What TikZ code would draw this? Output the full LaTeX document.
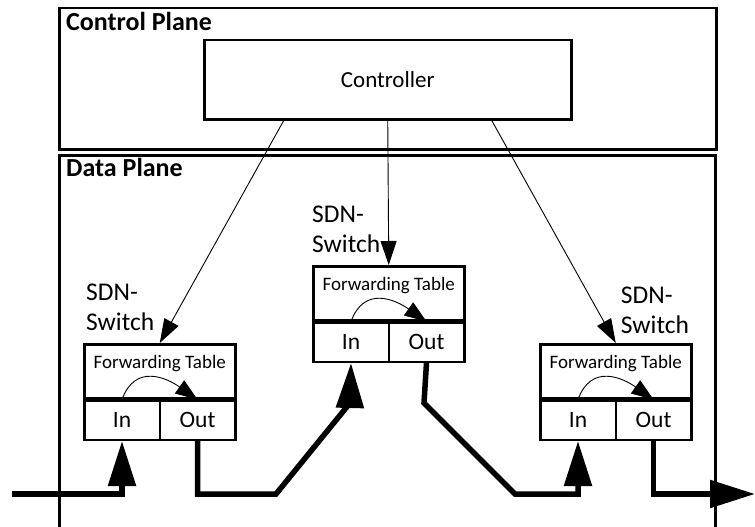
\documentclass[tikz,border=0pt]{standalone}
\usepackage{fontspec}
\setmainfont{Carlito}
\usetikzlibrary{arrows.meta,positioning}

\begin{document}
\begin{tikzpicture}[
  x=1pt, y=-1pt,
  plane/.style = {draw, line width=2.5pt, anchor=north west, inner sep=0pt},
  title/.style = {anchor=base west, inner sep=0pt, font=\fontsize{26}{30}\selectfont\bfseries},
  ctrlbox/.style = {draw, line width=2.5pt, anchor=north west, inner sep=0pt,
                    minimum width=367pt, minimum height=79pt, font=\fontsize{23}{27}\selectfont},
  tbl/.style = {draw, line width=2.5pt, anchor=north west, inner sep=0pt,
                minimum width=151pt, minimum height=54pt},
  ftext/.style = {inner sep=0pt, font=\fontsize{19}{22}\selectfont},
  cell/.style = {draw, line width=2.5pt, inner sep=0pt, minimum width=75.5pt,
                 minimum height=39pt, font=\fontsize{23.5}{27}\selectfont},
  swlabel/.style = {anchor=south west, align=left, inner sep=0pt,
                    font=\fontsize{25.5}{30}\selectfont},
  conn/.style = {line width=0.9pt, -{Triangle[length=24pt,width=16pt]}},
  loopback/.style = {line width=0.9pt, -{Triangle[length=22pt,width=16pt]}},
  flow/.style = {line width=5.5pt, line join=miter, -{Triangle[length=45pt,width=27pt]}}
]
  \clip (0,0) rectangle (755,527);

  % planes
  \node[plane, minimum width=657pt, minimum height=141pt] (cp) at (58,7) {};
  \node[plane, minimum width=656pt, minimum height=420pt] (dp) at (58,154) {};
  \node[title] (cpt) at (66,31) {Control Plane};
  \node[title] (dpt) at (66,176) {Data Plane};

  \node[ctrlbox] (ctrl) at (203,39) {Controller};

  % switches
  \foreach \n/\x/\y in {s1/83/343, s2/312/265, s3/539/343} {
    \node[tbl] (\n t) at (\x,\y) {};
    \node[ftext, below=12pt of \n t.north] (\n f) {Forwarding Table};
    \node[cell, anchor=north west] (\n i) at (\n t.south west) {In};
    \node[cell, anchor=north east] (\n o) at (\n t.south east) {Out};
    \draw[loopback] (\n i.north) to[out=70, in=145, looseness=1.3] (\n o.north);
  }

  \node[swlabel] (s1l) at ([xshift=3pt, yshift=12pt]s1t.north west) {SDN-\\Switch};
  \node[swlabel] (s2l) at ([yshift=12pt]s2t.north west) {SDN-\\Switch};
  \node[swlabel] (s3l) at ([xshift=5pt, yshift=9pt]s3t.north) {SDN-\\Switch};

  % controller to switches
  \draw[conn] ([xshift=-104pt]ctrl.south) -- (s1t.north);
  \draw[conn] (ctrl.south) -- (s2t.north);
  \draw[conn] ([xshift=104pt]ctrl.south) -- (s3t.north);

  % packet path
  \coordinate (src) at (12,494);
  \coordinate (dst) at (755,494);
  \draw[flow] (src) -| (s1i.south);
  \draw[flow] (s1o.south) |- (276,494) -- (350,403) -- (s2i.south);
  \draw[flow] (s2o.south) -- (424,403) -- (515,494) -| (s3i.south);
  \draw[flow] (s3o.south) |- (dst);
\end{tikzpicture}
\end{document}
